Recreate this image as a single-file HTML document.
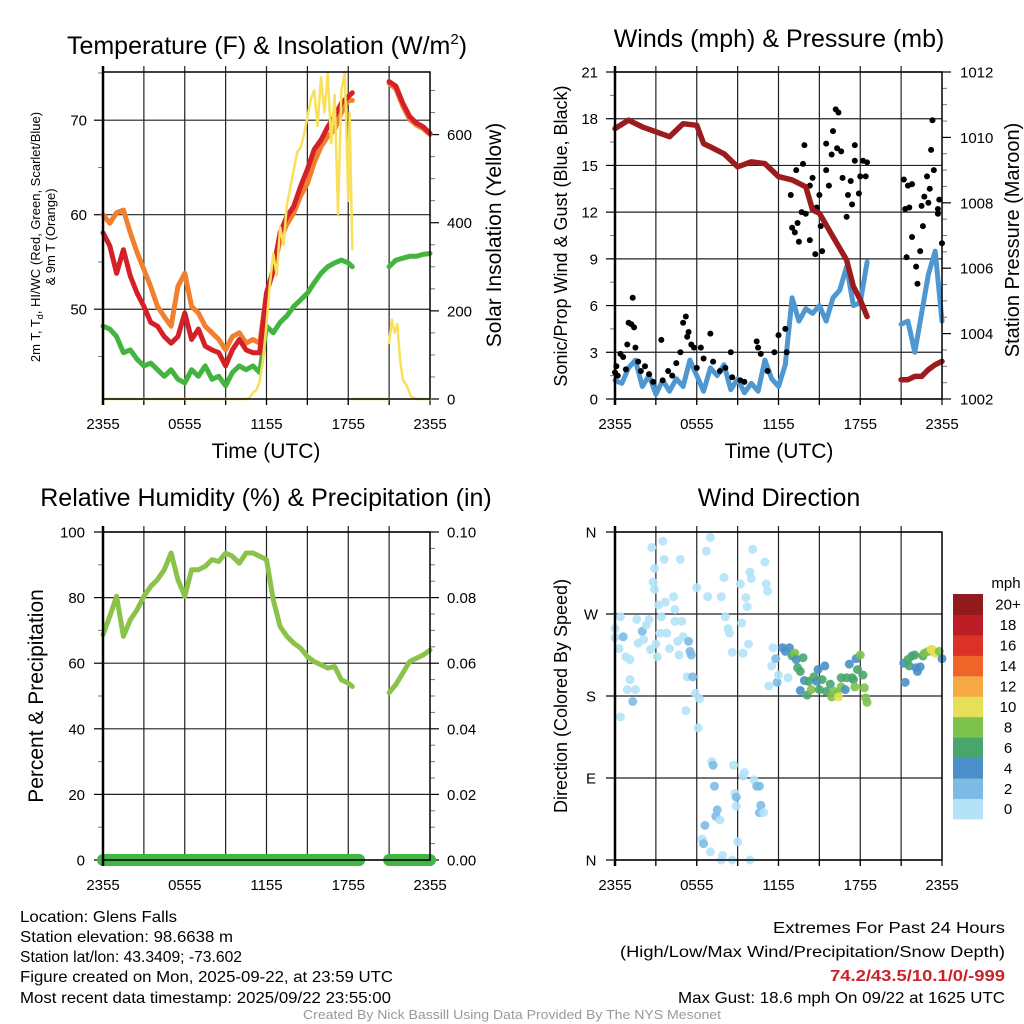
<!DOCTYPE html>
<html><head><meta charset="utf-8">
<style>
html,body{margin:0;padding:0;background:#fff;}
svg{display:block;font-family:"Liberation Sans",sans-serif;}
</style></head>
<body>
<svg id="fig" width="1024" height="1024" viewBox="0 0 1024 1024" xmlns="http://www.w3.org/2000/svg">
<rect width="1024" height="1024" fill="#fff"/>
<!-- titles -->
<text x="267" y="54" font-size="25" text-anchor="middle">Temperature (F) &amp; Insolation (W/m<tspan font-size="15" dy="-10">2</tspan><tspan dy="10">)</tspan></text>
<text x="779" y="47" font-size="25" text-anchor="middle">Winds (mph) &amp; Pressure (mb)</text>
<text x="266" y="506" font-size="25" text-anchor="middle">Relative Humidity (%) &amp; Precipitation (in)</text>
<text x="779" y="506" font-size="25" text-anchor="middle">Wind Direction</text>
<!-- axis titles -->
<text x="266" y="458" font-size="21" text-anchor="middle">Time (UTC)</text>
<text x="779" y="458" font-size="21" text-anchor="middle">Time (UTC)</text>
<g font-size="13" text-anchor="middle">
<text transform="translate(40,237) rotate(-90)">2m T, T<tspan font-size="9" dy="3">d</tspan><tspan dy="-3">, HI/WC (Red, Green, Scarlet/Blue)</tspan></text>
<text transform="translate(55,237) rotate(-90)">&amp; 9m T (Orange)</text>
</g>
<text transform="translate(501,235) rotate(-90)" font-size="21" text-anchor="middle">Solar Insolation (Yellow)</text>
<text transform="translate(567,236) rotate(-90)" font-size="18" text-anchor="middle">Sonic/Prop Wind &amp; Gust (Blue, Black)</text>
<text transform="translate(1019,240) rotate(-90)" font-size="20" text-anchor="middle">Station Pressure (Maroon)</text>
<text transform="translate(43,696) rotate(-90)" font-size="21" text-anchor="middle">Percent &amp; Precipitation</text>
<text transform="translate(567,696) rotate(-90)" font-size="18" text-anchor="middle">Direction (Colored By Speed)</text>
<!-- footer -->
<g font-size="16">
<text x="20" y="922" textLength="157" lengthAdjust="spacingAndGlyphs">Location: Glens Falls</text>
<text x="20" y="942" textLength="213" lengthAdjust="spacingAndGlyphs">Station elevation: 98.6638 m</text>
<text x="20" y="962" textLength="222" lengthAdjust="spacingAndGlyphs">Station lat/lon: 43.3409; -73.602</text>
<text x="20" y="982" textLength="373" lengthAdjust="spacingAndGlyphs">Figure created on Mon, 2025-09-22, at 23:59 UTC</text>
<text x="20" y="1003" textLength="371" lengthAdjust="spacingAndGlyphs">Most recent data timestamp: 2025/09/22 23:55:00</text>
</g>
<g font-size="16">
<text x="773" y="933" textLength="232" lengthAdjust="spacingAndGlyphs">Extremes For Past 24 Hours</text>
<text x="620" y="957" textLength="385" lengthAdjust="spacingAndGlyphs">(High/Low/Max Wind/Precipitation/Snow Depth)</text>
<text x="830" y="981" fill="#cc2229" font-weight="bold" textLength="175" lengthAdjust="spacingAndGlyphs">74.2/43.5/10.1/0/-999</text>
<text x="678" y="1003" textLength="327" lengthAdjust="spacingAndGlyphs">Max Gust: 18.6 mph On 09/22 at 1625 UTC</text>
</g>
<text x="303" y="1019" font-size="13" fill="#999" textLength="418" lengthAdjust="spacingAndGlyphs">Created By Nick Bassill Using Data Provided By The NYS Mesonet</text>
<g id="plots"></g>
</svg>
<script>
// ---------- data ----------
const xTickLabels = ["2355","0555","1155","1755","2355"];
// Temperature (F), hours since 2355
const tT1 = [0,0.5,1,1.5,2,2.5,3,3.5,4,4.5,5,5.5,6,6.5,7,7.5,8,8.5,9,9.5,10,10.5,11,11.5,12,12.5,13,13.5,14,14.5,15,15.5,16,16.5,17,17.5,18,18.3];
const temp2m = [58.1,56.7,53.8,56.3,53.5,51.7,50.3,48.6,48.2,47.1,46.4,47.1,49.6,46.8,47.9,46.1,45.7,45.4,44.0,45.7,46.8,45.7,45.4,45.4,51.7,54.2,58.1,59.8,60.9,63.0,64.8,66.9,67.9,69.3,70.4,71.8,72.5,72.9];
const temp9m = [60.0,59.1,60.2,60.5,58.1,56.0,54.2,52.4,50.3,49.2,48.2,52.4,53.8,50.3,49.6,48.2,47.5,46.8,45.7,47.1,47.5,46.4,46.8,46.4,51.7,54.0,57.4,59.0,60.2,62.0,63.3,65.5,67.2,68.3,69.0,70.8,72.1,72.1];
const dewpt = [48.2,47.9,47.1,45.4,45.7,44.7,44.0,44.3,43.6,42.9,43.6,42.6,42.2,43.6,42.9,44.0,42.6,42.9,41.9,43.3,44.0,43.6,44.0,43.3,48.2,47.5,48.6,49.3,50.3,51.0,51.7,52.8,53.8,54.5,54.9,55.2,54.9,54.5];
const tT2 = [21,21.5,22,22.5,23,23.5,24];
const temp2m2 = [74.1,73.6,71.8,70.4,69.7,69.3,68.6];
const temp9m2 = [73.9,73.3,71.5,70.1,69.5,69.1,68.5];
const dewpt2 = [54.5,55.2,55.4,55.6,55.6,55.8,55.9];
const tSolar1 = [0,10.5,10.75,11,11.25,11.5,11.75,12,12.25,12.5,12.75,13,13.25,13.5,13.75,14,14.25,14.5,14.75,15,15.25,15.5,15.75,16,16.25,16.5,16.75,17,17.25,17.5,17.75,18,18.1,18.3];
const solar1 = [0,0,3,14,20,40,90,170,260,330,280,390,350,440,480,520,560,570,600,640,680,700,620,730,650,740,580,690,420,700,740,450,650,340];
const tSolar2 = [21,21.2,21.4,21.6,21.8,22,22.3,22.6,23,24];
const solar2 = [127,180,150,170,90,44,30,6,0,0];
// Winds
const tW1 = [0,0.5,1,1.5,2,2.5,3,3.5,4,4.5,5,5.5,6,6.5,7,7.5,8,8.5,9,9.5,10,10.5,11,11.5,12,12.5,13,13.5,14,14.5,15,15.5,16,16.5,17,17.5,18,18.5];
const windSpd = [1.2,1.0,2.0,2.5,0.8,1.5,0.3,1.2,0.5,1.3,0.8,2.5,1.5,0.5,2.0,1.5,2.2,0.6,1.3,0.4,1.0,0.5,2.5,1.3,0.8,2.2,6.5,5.0,5.8,5.5,6.0,5.0,6.5,7.0,8.5,6.0,6.2,8.8];
const tW2 = [21,21.5,22,22.5,23,23.5,24];
const windSpd2 = [4.8,5.0,3.0,5.5,8.0,9.5,5.0];
const tP1 = [0,1,2,3,4,5,6,6.5,7,8,9,10,11,12,13,14,14.5,15,16,17,17.5,18,18.5];
const pres1 = [1010.27,1010.53,1010.32,1010.17,1010.02,1010.42,1010.37,1009.81,1009.71,1009.5,1009.1,1009.25,1009.2,1008.8,1008.7,1008.49,1007.78,1007.68,1006.96,1006.25,1005.44,1005.03,1004.52];
const tP2 = [21,21.5,22,22.5,23,23.5,24];
const pres2 = [1002.59,1002.59,1002.69,1002.69,1002.9,1003.05,1003.15];
const gustT = [0,0.1,0.2,0.4,0.6,0.8,0.9,1.0,1.2,1.3,1.4,1.5,1.7,1.9,2.2,2.5,2.8,3.4,3.5,3.9,4.2,4.5,4.8,5.0,5.2,5.3,5.4,5.6,5.8,6.0,6.3,6.5,7.0,7.2,7.7,8.1,8.5,8.6,9.2,9.5,10.4,10.5,10.7,11.2,11.7,12.0,12.5,12.6,12.9,13.0,13.2,13.3,13.4,13.5,13.7,13.8,13.9,14.0,14.3,14.5,14.3,14.7,14.8,15.0,15.1,15.2,15.5,15.5,15.7,15.9,16.0,16.2,16.4,16.6,16.3,16.7,17.0,17.1,17.4,17.6,17.6,17.9,18.0,18.2,18.4,18.5,17.3,21.2,21.3,21.5,21.6,21.8,21.4,21.8,22.1,22.2,22.4,22.5,22.6,22.7,22.9,23.0,23.1,23.2,23.3,23.4,23.7,23.8,24.0,23.7];
const gustSpd = [1.7,2.1,1.5,2.9,2.7,1.9,3.5,4.9,4.8,6.5,4.6,3.3,2.4,1.8,2.1,1.6,1.1,3.8,1.2,1.8,1.5,2.3,3.0,4.9,5.3,4.0,4.3,3.5,3.3,2.0,3.3,2.6,4.2,2.4,1.8,2.0,3.0,1.4,1.2,1.1,3.7,3.3,2.9,1.8,3.0,4.1,4.5,3.0,13.1,11.0,10.7,14.7,11.3,10.1,12.0,15.1,16.3,11.9,10.2,14.2,13.7,9.3,12.3,13.1,11.1,9.5,14.7,16.4,13.7,15.7,17.2,18.6,18.4,15.9,16.1,14.2,11.7,13.1,12.5,16.3,15.3,13.2,14.3,15.3,14.3,15.2,14.0,14.1,12.2,13.7,12.3,13.8,9.1,10.4,8.5,7.4,9.5,12.4,11.1,13.0,14.3,12.6,13.5,16.0,17.9,14.7,12.2,12.8,10.0,11.9];
// Humidity
const tRH1 = [0,0.5,1,1.5,2,2.5,3,3.5,4,4.5,5,5.5,6,6.5,7,7.5,8,8.5,9,9.5,10,10.5,11,11.5,12,12.5,13,13.5,14,14.5,15,15.5,16,16.5,17,17.5,18,18.3];
const rh1 = [68.7,74.3,80.4,68.2,73.2,76.3,80.4,83.4,85.5,88.5,93.6,85.5,80.4,88.5,88.5,89.5,91.6,91.0,93.6,92.6,90.5,93.6,93.6,92.6,91.6,79.3,71.2,68.2,66.1,64.6,62.0,60.5,59.5,58.5,59.0,54.9,53.9,52.9];
const tRH2 = [21,21.5,22,22.5,23,23.5,24];
const rh2 = [51,53.5,57,60.5,61.5,62.5,64];
const precipSegs = [[0,18.8],[21,24]];
const precipVal = [0,0];
// Wind direction (hours, degrees, mph)
const dirT = [0,0,0.3,0.4,0.6,0.8,1.1,1.1,0.9,1.3,1.5,0.4,1.6,1.7,2.0,2.1,2.3,2.5,2.6,2.7,2.9,2.8,2.9,3.0,3.1,3.2,3.3,3.4,3.5,3.6,3.7,3.8,4.0,4.3,4.4,4.4,4.6,4.7,4.8,4.9,5.0,5.4,5.3,5.5,5.6,5.7,5.9,6.0,6.1,6.2,5.2,6.7,6.8,7.0,7.1,7.2,7.3,7.5,7.4,7.7,6.6,6.4,6.5,7.0,7.8,8.0,8.1,8.3,8.4,8.6,7.8,7.9,8.6,8.7,8.8,8.9,8.9,9.0,9.2,9.3,9.4,9.6,9.7,9.8,9.9,10.0,10.1,9.5,9.4,10.2,10.4,10.6,10.7,10.6,10.9,9.9,11.0,11.1,11.2,11.3,11.5,11.6,11.8,11.9,12.0,12.7,
12.3,12.5,12.8,13.0,13.2,13.3,13.4,13.6,13.8,13.9,13.6,14.1,14.2,14.4,14.6,14.8,14.9,15.0,15.2,15.4,15.5,15.8,15.9,16.1,16.3,16.4,16.6,16.6,16.9,17.0,17.2,17.4,17.5,17.7,17.8,18.0,18.2,18.3,18.4,18.5,17.6,
21.2,21.3,21.5,21.6,21.8,22.0,22.1,22.2,22.4,22.6,22.7,23.0,23.2,23.3,23.5,23.8,24.0];
const dirDeg = [254,244,232,267,245,223,220,198,187,174,187,157,264,238,251,242,258,264,231,343,320,305,297,237,223,280,249,267,350,330,283,249,232,289,275,262,240,225,330,262,245,240,201,229,225,201,183,299,145,177,164,339,289,354,108,104,81,55,48,44,38,23,18,9,289,310,267,254,249,228,0,5,0,104,73,69,59,20,303,260,227,288,278,237,316,309,341,96,92,88,81,81,60,52,52,0,327,303,295,191,213,233,221,195,203,200,
233,229,233,224,227,220,211,207,222,197,186,181,196,187,201,196,209,187,198,213,185,193,179,185,183,179,200,190,187,200,215,200,198,221,209,225,203,189,178,173,190,
216,195,220,213,224,225,211,207,212,224,227,229,231,231,227,229,221];
const dirSpd = [1,1,1,1,3,1,1,1,1,3,1,1,1,1,3,1,1,1,1,1,1,1,1,1,1,1,1,1,1,1,1,1,1,1,1,1,1,1,1,1,1,3,1,3,3,2,1,1,1,1,1,1,1,1,1,3,3,3,3,1,3,1,3,1,1,1,1,1,1,1,1,1,1,1,1,3,1,1,1,1,1,1,1,1,1,1,1,1,1,1,2,3,3,3,1,1,1,1,1,1,1,1,3,3,1,1,
4,4,4,6,8,4,6,6,6,4,4,6,6,8,6,4,4,6,6,4,6,6,8,8,8,10,6,8,4,6,4,6,6,4,6,8,6,8,8,8,8,
4,4,6,6,6,6,4,4,4,6,8,8,10,10,10,8,4];
const speedBinLabels = ["0","2","4","6","8","10","12","14","16","18","20+"];
const speedColors = ["#b4e3f8","#7dbbe5","#4a8fc8","#48a66c","#7dc24b","#e6df58","#f5a843","#ee6429","#dc3127","#bc1d24","#901a1c"];
</script>
<script>
const NS = "http://www.w3.org/2000/svg";
const root = document.getElementById('plots');
function mk(tag, attrs, parent){
  const e = document.createElementNS(NS, tag);
  for (const k in attrs) e.setAttribute(k, attrs[k]);
  (parent||root).appendChild(e);
  return e;
}
function lin(d0,d1,r0,r1){ return v => r0 + (v-d0)/(d1-d0)*(r1-r0); }
function pathD(xs, ys, fx, fy){ return xs.map((t,i)=>(i?'L':'M')+fx(t).toFixed(1)+','+fy(ys[i]).toFixed(1)).join(''); }

function panelFrame(name, x0,x1,y0,y1, fx){
  const g = mk('g',{});
  
  
  for (let h=3; h<24; h+=3){
    const ln = mk('line',{x1:fx(h),x2:fx(h),y1:y0-6,y2:y1+6,stroke:'#222','stroke-width':1.2},g);
    
    
  }
  for (let h=0; h<=24; h+=3){
    const tk = mk('line',{x1:fx(h),x2:fx(h),y1:y1,y2:y1+6,stroke:'#000','stroke-width':1.2},g);
    
    
  }
  xTickLabels.forEach((lab,i)=>{
    const t = mk('text',{x:fx(i*6),y:y1+30,'font-size':15,'text-anchor':'middle'},g);
    t.textContent = lab;
    
    
  });
  return g;
}
function border(name,x0,x1,y0,y1){
  const r = mk('rect',{x:x0,y:y0,width:x1-x0,height:y1-y0,fill:'none',stroke:'#000','stroke-width':1.5});
  
  
  const l = mk('line',{x1:x0,x2:x0,y1:y0-6,y2:y1+6,stroke:'#000','stroke-width':2.5});
  
  
}
function hAxis(name, vals, labels, fy, x0, x1, side, labX, anchor, gridOn, minor){
  vals.forEach((v,i)=>{
    const y = fy(v);
    if (gridOn){
      const gl = mk('line',{x1:x0,x2:x1,y1:y,y2:y,stroke:'#222','stroke-width':1.2});
      
      
    }
    const tx = side==='left' ? [x0-9,x0] : [x1,x1+9];
    const tk = mk('line',{x1:tx[0],x2:tx[1],y1:y,y2:y,stroke:'#000','stroke-width':1.2});
    
    
    const t = mk('text',{x:labX,y:y+5.5,'font-size':15,'text-anchor':anchor});
    t.textContent = labels[i];
    
    
  });
  (minor||[]).forEach(v=>{
    const y = fy(v);
    const tx = side==='left' ? [x0-5,x0] : [x1,x1+5];
    const mt = mk('line',{x1:tx[0],x2:tx[1],y1:y,y2:y,stroke:'#777','stroke-width':1});
    
    
  });
}
function line(name, xs, ys, fx, fy, color, w){
  const p = mk('path',{d:pathD(xs,ys,fx,fy),fill:'none',stroke:color,'stroke-width':w,'stroke-linejoin':'round','stroke-linecap':'round'});
  
  
}

// ---------- Panel 1: temperature ----------
{
  const x0=103,x1=430,y0=72,y1=399;
  const fx = lin(0,24,x0,x1), fy = lin(40.5,75.1,y1,y0), fs = lin(0,742,y1,y0);
  panelFrame('temp',x0,x1,y0,y1,fx);
  hAxis('temp-y',[50,60,70],['50','60','70'],fy,x0,x1,'left',87,'end',true,[45,55,65,75]);
  hAxis('solar-y',[0,200,400,600],['0','200','400','600'],fs,x0,x1,'right',447,'start',false,[50,100,150,250,300,350,450,500,550,650,700]);
  line('dewpoint-line',tT1,dewpt,fx,fy,'#43b53f',5);
  line('dewpoint-line-2',tT2,dewpt2,fx,fy,'#43b53f',5);
  line('temp-9m-line',tT1,temp9m,fx,fy,'#f08030',5);
  line('temp-9m-line-2',tT2,temp9m2,fx,fy,'#f08030',5);
  line('temp-2m-line',tT1,temp2m,fx,fy,'#d42128',5);
  line('temp-2m-line-2',tT2,temp2m2,fx,fy,'#d42128',5);
  line('solar-line',tSolar1,solar1,fx,fs,'#f8e05a',2.5);
  line('solar-line-2',tSolar2,solar2,fx,fs,'#f8e05a',2.5);
  line('solar-baseline-gap',[18.3,21],[0,0],fx,fs,'#f8e05a',2.5);
  border('temp',x0,x1,y0,y1);
}
// ---------- Panel 2: winds ----------
{
  const x0=615,x1=942,y0=72,y1=399;
  const fx = lin(0,24,x0,x1), fy = lin(0,21,y1,y0), fp = lin(1002,1012,y1,y0);
  panelFrame('wind',x0,x1,y0,y1,fx);
  hAxis('wind-y',[0,3,6,9,12,15,18,21],['0','3','6','9','12','15','18','21'],fy,x0,x1,'left',598,'end',true,[1.5,4.5,7.5,10.5,13.5,16.5,19.5]);
  hAxis('pressure-y',[1002,1004,1006,1008,1010,1012],['1002','1004','1006','1008','1010','1012'],fp,x0,x1,'right',960,'start',false,[1002.5,1003,1003.5,1004.5,1005,1005.5,1006.5,1007,1007.5,1008.5,1009,1009.5,1010.5,1011,1011.5]);
  line('wind-speed-line',tW1,windSpd,fx,fy,'#4f97d1',5);
  line('wind-speed-line-2',tW2,windSpd2,fx,fy,'#4f97d1',5);
  gustT.forEach((t,i)=>{
    const c = mk('circle',{cx:fx(t),cy:fy(gustSpd[i]),r:3,fill:'#000'});
    
    
  });
  line('pressure-line',tP1,pres1,fx,fp,'#9b1b1e',5.5);
  line('pressure-line-2',tP2,pres2,fx,fp,'#9b1b1e',5.5);
  border('wind',x0,x1,y0,y1);
}
// ---------- Panel 3: humidity ----------
{
  const x0=103,x1=430,y0=532,y1=860;
  const fx = lin(0,24,x0,x1), fy = lin(0,100,y1,y0), fq = lin(0,0.1,y1,y0);
  panelFrame('rh',x0,x1,y0,y1,fx);
  hAxis('rh-y',[0,20,40,60,80,100],['0','20','40','60','80','100'],fy,x0,x1,'left',85,'end',true,[10,30,50,70,90]);
  hAxis('precip-y',[0,0.02,0.04,0.06,0.08,0.1],['0.00','0.02','0.04','0.06','0.08','0.10'],fq,x0,x1,'right',447,'start',false,[0.005,0.01,0.015,0.025,0.03,0.035,0.045,0.05,0.055,0.065,0.07,0.075,0.085,0.09,0.095]);
  line('rh-line',tRH1,rh1,fx,fy,'#8bc34a',5);
  line('rh-line-2',tRH2,rh2,fx,fy,'#8bc34a',5);
  precipSegs.forEach((s,i)=>{
    const p = mk('line',{x1:fx(s[0]),x2:fx(s[1]),y1:fq(precipVal[i]),y2:fq(precipVal[i]),stroke:'#43b546','stroke-width':12,'stroke-linecap':'round'});
    
    
  });
  border('rh',x0,x1,y0,y1);
}
// ---------- Panel 4: wind direction ----------
{
  const x0=615,x1=942,y0=532,y1=860;
  const fx = lin(0,24,x0,x1), fy = lin(0,360,y1,y0);
  panelFrame('dir',x0,x1,y0,y1,fx);
  hAxis('dir-y',[0,90,180,270,360],['N','E','S','W','N'],fy,x0,x1,'left',591,'middle',true,[]);
  dirT.forEach((t,i)=>{
    const bin = Math.min(10, Math.floor(dirSpd[i]/2));
    const c = mk('circle',{cx:fx(t),cy:fy(dirDeg[i]),r:4.5,fill:speedColors[bin],'fill-opacity':0.9});
    
    
  });
  border('dir',x0,x1,y0,y1);
  const lg = mk('g',{});
  
  
  const bx=953, bw=30, btop=594, bh=20.45;
  const ttl = mk('text',{x:1006,y:588,'font-size':15,'text-anchor':'middle'},lg);
  ttl.textContent = 'mph';
  
  
  speedBinLabels.forEach((lab,i)=>{
    const k = speedBinLabels.length-1-i;
    const r = mk('rect',{x:bx,y:btop+k*bh,width:bw,height:bh+0.5,fill:speedColors[i]},lg);
    
    
    const t = mk('text',{x:1008,y:btop+k*bh+bh/2+5.5,'font-size':15,'text-anchor':'middle'},lg);
    t.textContent = lab;
    
    
  });
}
</script>
</body></html>
